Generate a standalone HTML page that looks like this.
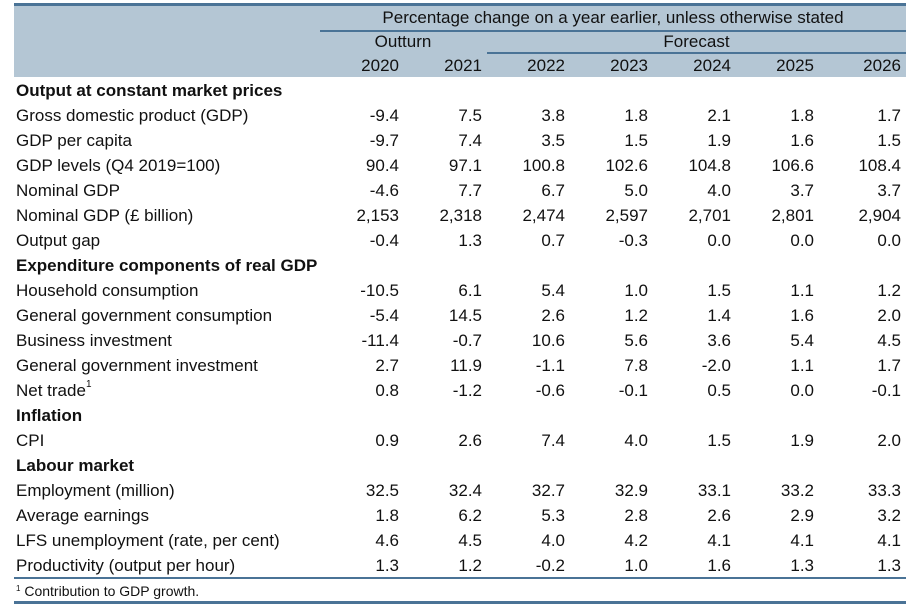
<!DOCTYPE html>
<html><head><meta charset="utf-8">
<style>
html,body{margin:0;padding:0;background:#fff;}
#tbl{position:relative;width:920px;height:610px;overflow:hidden;font-family:"Liberation Sans",sans-serif;font-size:17px;color:#111;}
.hbg{position:absolute;left:14px;top:6px;width:892px;height:71px;background:#b4c6d4;}
.ln{position:absolute;background:#4a7396;}
.t{position:absolute;white-space:nowrap;line-height:20px;}
.n{text-align:right;width:80px;}
.b{font-weight:bold;}
sup{font-size:10px;line-height:0;vertical-align:top;position:relative;top:4px;}
</style></head>
<body>
<div id="tbl">
<div class="hbg"></div>
<div class="ln" style="left:14px;top:3px;width:892px;height:3px"></div>
<div class="ln" style="left:320px;top:30px;width:586px;height:2px"></div>
<div class="ln" style="left:487px;top:52px;width:419px;height:2px"></div>
<div class="t" style="left:320px;width:586px;text-align:center;top:8px">Percentage change on a year earlier, unless otherwise stated</div>
<div class="t" style="left:320px;width:166px;text-align:center;top:32px">Outturn</div>
<div class="t" style="left:487px;width:419px;text-align:center;top:32px">Forecast</div>
<div class="ln" style="left:14px;top:577px;width:892px;height:2px"></div>
<div class="ln" style="left:14px;top:601px;width:892px;height:3px"></div>
<div class="t" style="left:16px;top:581px;font-size:14px"><span style="font-size:8px;position:relative;top:-5px">1</span> Contribution to GDP growth.</div>
</div>
<script>
const years=["2020","2021","2022","2023","2024","2025","2026"];
const labels=["Output at constant market prices","Gross domestic product (GDP)","GDP per capita","GDP levels (Q4 2019=100)","Nominal GDP","Nominal GDP (£ billion)","Output gap","Expenditure components of real GDP","Household consumption","General government consumption","Business investment","General government investment","Net trade<sup>1</sup>","Inflation","CPI","Labour market","Employment (million)","Average earnings","LFS unemployment (rate, per cent)","Productivity (output per hour)"];
const values=[null,
["-9.4","7.5","3.8","1.8","2.1","1.8","1.7"],
["-9.7","7.4","3.5","1.5","1.9","1.6","1.5"],
["90.4","97.1","100.8","102.6","104.8","106.6","108.4"],
["-4.6","7.7","6.7","5.0","4.0","3.7","3.7"],
["2,153","2,318","2,474","2,597","2,701","2,801","2,904"],
["-0.4","1.3","0.7","-0.3","0.0","0.0","0.0"],
null,
["-10.5","6.1","5.4","1.0","1.5","1.1","1.2"],
["-5.4","14.5","2.6","1.2","1.4","1.6","2.0"],
["-11.4","-0.7","10.6","5.6","3.6","5.4","4.5"],
["2.7","11.9","-1.1","7.8","-2.0","1.1","1.7"],
["0.8","-1.2","-0.6","-0.1","0.5","0.0","-0.1"],
null,
["0.9","2.6","7.4","4.0","1.5","1.9","2.0"],
null,
["32.5","32.4","32.7","32.9","33.1","33.2","33.3"],
["1.8","6.2","5.3","2.8","2.6","2.9","3.2"],
["4.6","4.5","4.0","4.2","4.1","4.1","4.1"],
["1.3","1.2","-0.2","1.0","1.6","1.3","1.3"]];
const colRight=[399,482,565,648,731,814,901];
const tbl=document.getElementById('tbl');
years.forEach((y,j)=>{
  const d=document.createElement('div');
  d.className='t n';
  d.style.left=(colRight[j]-80)+'px';d.style.top='56px';
  d.textContent=y;
  
  
  tbl.appendChild(d);
});
labels.forEach((l,i)=>{
  const top=81+25*i;
  const d=document.createElement('div');
  d.className='t'+(values[i]?'':' b');
  d.style.left='16px';d.style.top=top+'px';
  d.innerHTML=l;
  
  
  tbl.appendChild(d);
  if(values[i]) values[i].forEach((v,j)=>{
    const c=document.createElement('div');
    c.className='t n';
    c.style.left=(colRight[j]-80)+'px';c.style.top=top+'px';
    c.textContent=v;
    
    
    tbl.appendChild(c);
  });
});
</script>
</body></html>
